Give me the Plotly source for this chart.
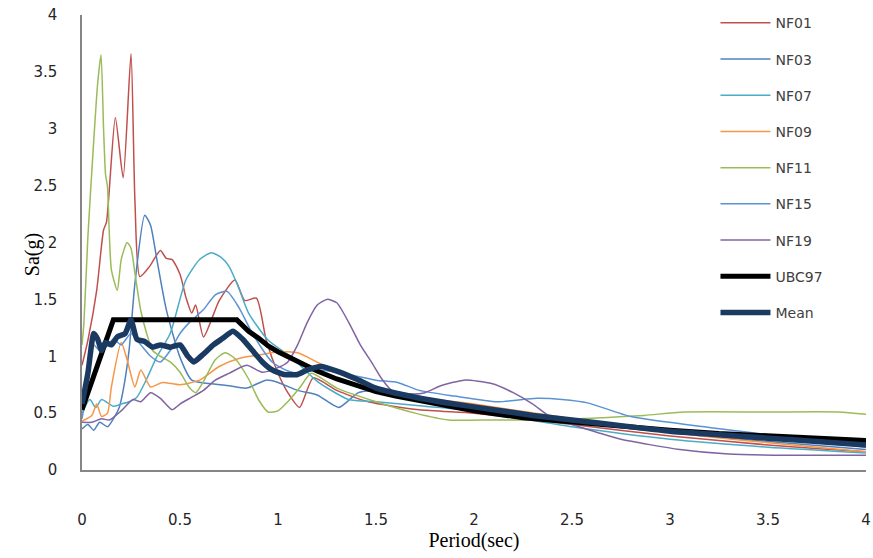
import plotly.graph_objects as go

# ---------------- data ----------------
T_NF01 = [0, 0.03, 0.075, 0.11, 0.125, 0.17, 0.21, 0.25, 0.27, 0.295, 0.345, 0.4, 0.43, 0.46, 0.5, 0.53, 0.56, 0.58, 0.62, 0.7, 0.78, 0.83, 0.89, 0.94, 1.0, 1.05, 1.11, 1.18, 1.3, 1.46, 1.72, 2.0, 2.25, 2.5, 3.0, 3.5, 4.0]
SA_NF01 = [0.92, 1.14, 1.58, 2.11, 2.18, 3.10, 2.57, 3.66, 2.37, 1.70, 1.79, 1.93, 1.86, 1.85, 1.72, 1.52, 1.38, 1.45, 1.17, 1.49, 1.67, 1.49, 1.51, 1.14, 0.85, 0.68, 0.55, 0.81, 0.70, 0.60, 0.53, 0.50, 0.45, 0.40, 0.30, 0.22, 0.16]

T_NF03 = [0, 0.03, 0.06, 0.09, 0.13, 0.16, 0.19, 0.21, 0.24, 0.27, 0.32, 0.35, 0.38, 0.43, 0.5, 0.56, 0.65, 0.75, 0.84, 0.94, 1.0, 1.1, 1.2, 1.31, 1.41, 1.5, 1.75, 2.0, 2.5, 3.0, 3.5, 4.0]
SA_NF03 = [0.36, 0.40, 0.35, 0.42, 0.38, 0.45, 0.55, 0.70, 1.05, 1.64, 2.24, 2.15, 1.87, 1.41, 0.99, 0.79, 0.76, 0.74, 0.72, 0.79, 0.77, 0.70, 0.66, 0.55, 0.68, 0.70, 0.63, 0.57, 0.44, 0.33, 0.25, 0.18]

T_NF07 = [0, 0.04, 0.07, 0.1, 0.16, 0.2, 0.24, 0.28, 0.33, 0.38, 0.45, 0.53, 0.6, 0.66, 0.71, 0.75, 0.8, 0.85, 0.95, 1.07, 1.2, 1.36, 1.5, 1.75, 2.0, 2.5, 3.0, 3.5, 4.0]
SA_NF07 = [0.50, 0.62, 0.55, 0.62, 0.56, 0.58, 0.60, 0.64, 0.80, 0.99, 1.20, 1.67, 1.85, 1.91, 1.87, 1.79, 1.60, 1.38, 1.14, 0.99, 0.78, 0.62, 0.60, 0.56, 0.52, 0.38, 0.27, 0.20, 0.15]

T_NF09 = [0, 0.05, 0.075, 0.1, 0.13, 0.15, 0.2, 0.23, 0.27, 0.3, 0.35, 0.41, 0.5, 0.6, 0.7, 0.8, 0.9, 1.0, 1.1, 1.21, 1.43, 1.72, 2.0, 2.5, 3.0, 3.5, 4.0]
SA_NF09 = [0.43, 0.48, 0.58, 0.47, 0.50, 0.73, 1.12, 0.97, 0.73, 0.88, 0.73, 0.77, 0.75, 0.79, 0.91, 0.98, 1.01, 1.04, 1.03, 0.94, 0.76, 0.64, 0.58, 0.45, 0.33, 0.24, 0.16]

T_NF11 = [0, 0.01, 0.03, 0.06, 0.08, 0.097, 0.11, 0.12, 0.13, 0.14, 0.15, 0.18, 0.2, 0.23, 0.25, 0.27, 0.3, 0.33, 0.36, 0.4, 0.45, 0.5, 0.55, 0.58, 0.62, 0.68, 0.73, 0.78, 0.85, 0.9, 0.95, 1.0, 1.05, 1.11, 1.17, 1.3, 1.5, 1.7, 1.87, 2.1, 2.4, 2.66, 2.87, 3.07, 3.5, 3.86, 4.0]
SA_NF11 = [1.10, 1.30, 2.05, 2.90, 3.40, 3.65, 3.00, 2.60, 2.49, 2.05, 1.76, 1.58, 1.85, 2.00, 1.95, 1.73, 1.40, 1.20, 1.05, 1.00, 0.95, 0.86, 0.72, 0.68, 0.78, 0.97, 1.03, 0.98, 0.80, 0.62, 0.51, 0.52, 0.60, 0.72, 0.85, 0.72, 0.60, 0.50, 0.44, 0.44, 0.44, 0.46, 0.48, 0.51, 0.51, 0.51, 0.49]

T_NF15 = [0, 0.03, 0.06, 0.09, 0.12, 0.16, 0.2, 0.25, 0.3, 0.35, 0.4, 0.45, 0.5, 0.55, 0.62, 0.68, 0.74, 0.8, 0.87, 0.97, 1.05, 1.1, 1.2, 1.3, 1.5, 1.61, 1.72, 1.9, 2.12, 2.32, 2.45, 2.58, 2.8, 3.22, 3.6, 4.0]
SA_NF15 = [0.45, 0.75, 1.10, 1.05, 1.08, 1.15, 1.10, 1.20, 1.10, 1.00, 0.95, 1.05, 1.20, 1.30, 1.41, 1.54, 1.57, 1.43, 1.20, 0.95, 0.87, 0.85, 0.88, 0.86, 0.79, 0.77, 0.70, 0.65, 0.60, 0.63, 0.62, 0.59, 0.47, 0.37, 0.29, 0.20]

T_NF19 = [0, 0.05, 0.1, 0.14, 0.2, 0.26, 0.3, 0.35, 0.4, 0.46, 0.5, 0.56, 0.62, 0.68, 0.75, 0.84, 0.92, 1.0, 1.05, 1.1, 1.15, 1.2, 1.25, 1.3, 1.36, 1.42, 1.48, 1.53, 1.58, 1.67, 1.75, 1.83, 1.95, 2.09, 2.2, 2.3, 2.38, 2.5, 2.63, 2.75, 3.05, 3.3, 3.6, 4.0]
SA_NF19 = [0.42, 0.42, 0.45, 0.44, 0.52, 0.62, 0.60, 0.68, 0.63, 0.53, 0.58, 0.64, 0.70, 0.79, 0.85, 0.92, 0.86, 0.90, 0.95, 1.10, 1.30, 1.45, 1.50, 1.47, 1.30, 1.10, 0.94, 0.80, 0.70, 0.67, 0.68, 0.74, 0.79, 0.76, 0.68, 0.58, 0.48, 0.40, 0.33, 0.27, 0.18, 0.14, 0.13, 0.13]

T_UBC97 = [0, 0.16, 0.79, 0.85, 0.9, 0.95, 1.0, 1.1, 1.2, 1.3, 1.4, 1.5, 1.6, 1.8, 2.0, 2.25, 2.5, 2.75, 3.0, 3.25, 3.5, 3.75, 4.0]
SA_UBC97 = [0.53, 1.32, 1.32, 1.22, 1.16, 1.09, 1.04, 0.95, 0.87, 0.80, 0.74, 0.69, 0.65, 0.58, 0.52, 0.46, 0.42, 0.38, 0.35, 0.32, 0.30, 0.28, 0.26]

T_MEAN = [0, 0.03, 0.06, 0.08, 0.1, 0.12, 0.15, 0.18, 0.22, 0.25, 0.28, 0.32, 0.36, 0.4, 0.45, 0.5, 0.54, 0.57, 0.62, 0.67, 0.72, 0.77, 0.82, 0.87, 0.92, 0.97, 1.03, 1.1, 1.15, 1.22, 1.3, 1.4, 1.5, 1.7, 1.9, 2.1, 2.3, 2.5, 2.75, 3.0, 3.25, 3.5, 3.75, 4.0]
SA_MEAN = [0.58, 0.85, 1.20, 1.15, 1.05, 1.12, 1.10, 1.17, 1.20, 1.32, 1.15, 1.13, 1.08, 1.10, 1.08, 1.10, 1.00, 0.95, 1.02, 1.10, 1.16, 1.22, 1.15, 1.05, 0.95, 0.88, 0.84, 0.84, 0.88, 0.91, 0.87, 0.80, 0.72, 0.64, 0.58, 0.53, 0.48, 0.44, 0.39, 0.34, 0.31, 0.28, 0.25, 0.22]

X_TICKS = [0, 0.5, 1, 1.5, 2, 2.5, 3, 3.5, 4]
X_TICK_TEXT = ["0", "0.5", "1", "1.5", "2", "2.5", "3", "3.5", "4"]
Y_TICKS = [0, 0.5, 1, 1.5, 2, 2.5, 3, 3.5, 4]
Y_TICK_TEXT = ["0", "0.5", "1", "1.5", "2", "2.5", "3", "3.5", "4"]

# ---------------- figure ----------------
records = [
    ("NF01", T_NF01, SA_NF01, "#C0504D"),
    ("NF03", T_NF03, SA_NF03, "#4F81BD"),
    ("NF07", T_NF07, SA_NF07, "#4BACC6"),
    ("NF09", T_NF09, SA_NF09, "#F79646"),
    ("NF11", T_NF11, SA_NF11, "#9BBB59"),
    ("NF15", T_NF15, SA_NF15, "#5A92D6"),
    ("NF19", T_NF19, SA_NF19, "#8064A2"),
]

fig = go.Figure()
for name, t, sa, col in records:
    fig.add_trace(go.Scatter(
        x=t, y=sa, name=name, mode="lines", legendgroup=name,
        line=dict(color=col, width=1.5, shape="spline", smoothing=0.6),
    ))

fig.add_trace(go.Scatter(
    x=T_UBC97, y=SA_UBC97, name="UBC97", mode="lines", legendgroup="UBC97",
    line=dict(color="#000000", width=5),
))
fig.add_trace(go.Scatter(
    x=T_MEAN, y=SA_MEAN, name="Mean", mode="lines", legendgroup="Mean",
    line=dict(color="#1B3A61", width=5.5, shape="spline", smoothing=0.5),
))

fig.update_layout(
    width=873, height=558,
    margin=dict(l=82, r=7, t=15, b=88, autoexpand=False),
    paper_bgcolor="white", plot_bgcolor="white",
    font=dict(family="DejaVu Sans", size=14, color="#262626"),
    showlegend=True,
    legend=dict(
        x=0.808, y=1.017, xanchor="left", yanchor="top",
        bgcolor="rgba(0,0,0,0)", borderwidth=0,
        font=dict(family="DejaVu Sans", size=14, color="#404040"),
        tracegroupgap=15, itemwidth=50, maxheight=520,
    ),
    xaxis=dict(
        range=[0, 4], tickmode="array", tickvals=X_TICKS, ticktext=X_TICK_TEXT,
        showgrid=False, zeroline=False, showline=True, linecolor="#868686", linewidth=1.5,
        ticks="", ticklabelstandoff=35, ticklabeloverflow="allow", automargin=False,
        tickfont=dict(family="DejaVu Sans", size=15, color="#262626"),
        title=dict(text="Period(sec)", font=dict(family="Liberation Serif", size=20, color="#000000"), standoff=2),
    ),
    yaxis=dict(
        range=[0, 4], tickmode="array", tickvals=Y_TICKS, ticktext=Y_TICK_TEXT,
        showgrid=False, zeroline=False, showline=True, linecolor="#868686", linewidth=1.5,
        ticks="", ticklabelstandoff=20, automargin=False,
        tickfont=dict(family="DejaVu Sans", size=15, color="#262626"),
    ),
    annotations=[dict(
        text="Sa(g)", textangle=-90, showarrow=False,
        xref="paper", yref="paper", x=-0.0635, y=0.4725,
        xanchor="center", yanchor="middle",
        font=dict(family="Liberation Serif", size=20, color="#000000"),
    )],
)

fig.write_html("out.html")
